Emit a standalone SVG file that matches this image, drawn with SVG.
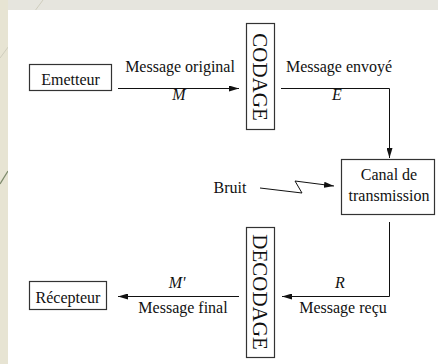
<svg xmlns="http://www.w3.org/2000/svg" width="438" height="364" viewBox="0 0 438 364">
<style>
.t{font-family:"Liberation Serif","Times New Roman",serif;font-size:16px;fill:#111}
.i{font-style:italic}
.v{font-family:"Liberation Serif","Times New Roman",serif;font-size:21px;fill:#111}
.box{fill:#fff;stroke:#333;stroke-width:1.2}
.ln{fill:none;stroke:#111;stroke-width:1}
</style>
<defs>
<marker id="ah" viewBox="0 0 10 6" refX="10" refY="3" markerWidth="10" markerHeight="6" markerUnits="userSpaceOnUse" orient="auto">
<path d="M0,0 L10,3 L0,6 Z" fill="#111"/>
</marker>
</defs>
<rect x="0" y="0" width="438" height="364" fill="#e7e4d3"/>
<rect x="8" y="0" width="430" height="10" fill="#e6e5de"/>
<line x1="43" y1="0" x2="0" y2="58" stroke="#cfcdbd" stroke-width="1"/>
<line x1="8" y1="171" x2="0" y2="184" stroke="#7d8a6c" stroke-width="1.3"/>
<rect x="8" y="10" width="430" height="354" fill="#fff"/>

<g id="emetteur">
<rect class="box" x="29.5" y="64.5" width="82" height="26"/>
<text class="t" x="70.5" y="85" text-anchor="middle">Emetteur</text>
</g>
<g id="codage">
<rect class="box" x="246.5" y="23.5" width="28" height="106"/>
<text class="v" transform="translate(253,77) rotate(90)" text-anchor="middle">CODAGE</text>
</g>
<g id="canal">
<rect class="box" x="341.5" y="159.5" width="93" height="55"/>
<text class="t" x="389" y="180" text-anchor="middle">Canal de</text>
<text class="t" x="389" y="201" text-anchor="middle">transmission</text>
</g>
<g id="bruit">
<text class="t" x="230" y="193" text-anchor="middle">Bruit</text>
</g>
<g id="decodage">
<rect class="box" x="246.5" y="227.5" width="28" height="130"/>
<text class="v" transform="translate(253,292) rotate(90)" text-anchor="middle">DECODAGE</text>
</g>
<g id="recepteur">
<rect class="box" x="29.5" y="281.5" width="77" height="28"/>
<text class="t" x="68" y="303" text-anchor="middle">Récepteur</text>
</g>

<g id="connectors">
<path class="ln" d="M118,88.5 H239" marker-end="url(#ah)"/>
<text class="t" x="180" y="72" text-anchor="middle">Message original</text>
<text class="t i" x="179" y="100" text-anchor="middle">M</text>

<path class="ln" d="M281,88.5 H389.5 V158" marker-end="url(#ah)"/>
<text class="t" x="339" y="72" text-anchor="middle">Message envoyé</text>
<text class="t i" x="337" y="100" text-anchor="middle">E</text>

<path class="ln" d="M260,188 L302,193 L295,181 L334,186" marker-end="url(#ah)"/>

<path class="ln" d="M389.5,222 V296.5 H282" marker-end="url(#ah)"/>
<text class="t i" x="340" y="288" text-anchor="middle">R</text>
<text class="t" x="343" y="313" text-anchor="middle">Message reçu</text>

<path class="ln" d="M239,296.5 H118" marker-end="url(#ah)"/>
<text class="t i" x="177" y="288" text-anchor="middle">M'</text>
<text class="t" x="183" y="313" text-anchor="middle">Message final</text>
</g>
</svg>
